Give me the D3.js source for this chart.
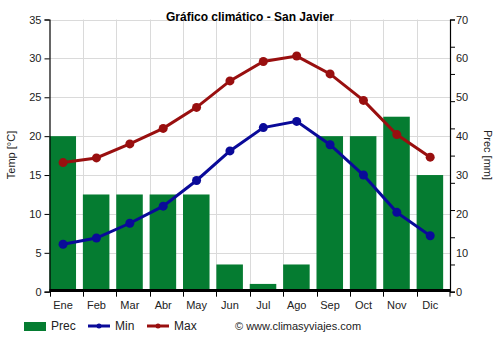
<!DOCTYPE html>
<html><head><meta charset="utf-8">
<script src="https://cdn.jsdelivr.net/npm/d3@7"></script>
<style>body{margin:0;background:#fff}svg{display:block;font-family:"Liberation Sans",Arial,sans-serif}</style>
</head><body><svg id="c" width="500" height="350"></svg>
<script>
const months = ["Ene","Feb","Mar","Abr","May","Jun","Jul","Ago","Sep","Oct","Nov","Dic"];
const prec = [40,25,25,25,25,7,2,7,40,40,45,30];
const tmin = [6.1,6.9,8.8,11.0,14.3,18.1,21.1,21.9,18.9,15.0,10.2,7.2];
const tmax = [16.6,17.2,19.0,21.0,23.7,27.1,29.6,30.3,28.0,24.6,20.2,17.3];
const tempTicks = [0,5,10,15,20,25,30,35];
const precLabels = [0,10,20,30,40,50,60,70];
const precTickMarks = [0,7,14,21,28,35,42,49,56,63,70];

const svg = d3.select("#c");
const L = 49.5, R = 450, T = 19.5, B = 291.7;
const x = d3.scaleBand().domain(months).range([L, R]).paddingInner(0).paddingOuter(0);
const yT = d3.scaleLinear().domain([0,35]).range([B, T]);
const yP = d3.scaleLinear().domain([0,70]).range([B, T]);
const barW = x.bandwidth()*0.795;
const cx = m => x(m) + barW/2 + 0.3;

// grid
svg.append("g").selectAll("line").data(tempTicks.slice(1)).join("line")
  .attr("x1", L).attr("x2", R).attr("y1", d=>Math.round(yT(d))+0.5).attr("y2", d=>Math.round(yT(d))+0.5)
  .attr("stroke", "#dadada").attr("stroke-width", 1);
svg.append("g").selectAll("line").data(months.slice(1)).join("line")
  .attr("x1", d=>Math.round(x(d))+0.5).attr("x2", d=>Math.round(x(d))+0.5).attr("y1", T).attr("y2", B)
  .attr("stroke", "#dadada").attr("stroke-width", 1);

// bars
svg.append("g").selectAll("rect").data(months).join("rect")
  .attr("x", d=>x(d)).attr("width", barW)
  .attr("y", (d,i)=>yP(prec[i])).attr("height", (d,i)=>B - yP(prec[i]))
  .attr("fill", "#057c31");

// zero line
svg.append("line").attr("x1", L).attr("x2", R).attr("y1", B-1.3).attr("y2", B-1.3)
  .attr("stroke", "#000").attr("stroke-width", 3);

// lines
const line = arr => d3.line().x((d,i)=>cx(months[i])).y(d=>yT(d))(arr);
[[tmax,"#990f0f"],[tmin,"#0a0a99"]].forEach(([arr,col])=>{
  svg.append("path").attr("d", line(arr)).attr("fill","none").attr("stroke",col).attr("stroke-width",3);
  svg.append("g").selectAll("circle").data(arr).join("circle")
    .attr("cx",(d,i)=>cx(months[i])).attr("cy",d=>yT(d)).attr("r",4.5).attr("fill",col);
});

// left axis
const la = svg.append("g").attr("transform",`translate(${L},0)`)
  .call(d3.axisLeft(yT).tickValues(tempTicks).tickSize(5).tickPadding(3));
// right axis
const ra = svg.append("g").attr("transform",`translate(${R},0)`)
  .call(d3.axisRight(yP).tickValues(precTickMarks).tickSize(5).tickFormat(""));
svg.append("g").attr("transform",`translate(${R},0)`)
  .call(d3.axisRight(yP).tickValues(precLabels).tickSize(0).tickPadding(6))
  .select(".domain").remove();
// bottom axis
const ba = svg.append("g").attr("transform",`translate(0,${B})`)
  .call(d3.axisBottom(x).tickSize(0).tickPadding(10));
ba.select(".domain").remove();
ba.selectAll(".tick text").attr("transform", `translate(${barW/2 + 0.3 - x.bandwidth()/2},0)`);
svg.append("g").selectAll("line").data(months.concat(["end"])).join("line")
  .attr("x1", d=> d==="end" ? R : Math.round(x(d))+0.5).attr("x2", d=> d==="end" ? R : Math.round(x(d))+0.5)
  .attr("y1", B).attr("y2", B+5).attr("stroke","#000");

svg.selectAll(".domain").attr("stroke","#000").attr("stroke-width",1.2);
svg.selectAll(".tick line").attr("stroke","#000");
svg.selectAll(".tick text").attr("font-size",11).attr("fill","#222").attr("font-family","\"Liberation Sans\",Arial,sans-serif");

// titles
svg.append("text").attr("x",250).attr("y",21).attr("text-anchor","middle")
  .attr("font-size",12).attr("font-weight","bold").attr("fill","#000").text("Gráfico climático - San Javier");
svg.append("text").attr("transform","translate(15,155) rotate(-90)").attr("text-anchor","middle")
  .attr("font-size",11).attr("fill","#222").text("Temp [°C]");
svg.append("text").attr("transform","translate(484,155) rotate(90)").attr("text-anchor","middle")
  .attr("font-size",11).attr("fill","#222").text("Prec [mm]");

// legend
const lg = svg.append("g");
lg.append("rect").attr("x",24).attr("y",322).attr("width",22).attr("height",9).attr("fill","#057c31");
lg.append("text").attr("x",51).attr("y",330).attr("font-size",12).attr("fill","#222").text("Prec");
[[88,"#0a0a99","Min"],[147,"#990f0f","Max"]].forEach(([lx,col,t])=>{
  lg.append("line").attr("x1",lx).attr("x2",lx+22).attr("y1",326).attr("y2",326).attr("stroke",col).attr("stroke-width",3);
  lg.append("circle").attr("cx",lx+11).attr("cy",326).attr("r",2.5).attr("fill",col);
  lg.append("text").attr("x",lx+27).attr("y",330).attr("font-size",12).attr("fill","#222").text(t);
});
lg.append("text").attr("x",235).attr("y",330).attr("font-size",11).attr("fill","#222").text("© www.climasyviajes.com");
</script></body></html>
